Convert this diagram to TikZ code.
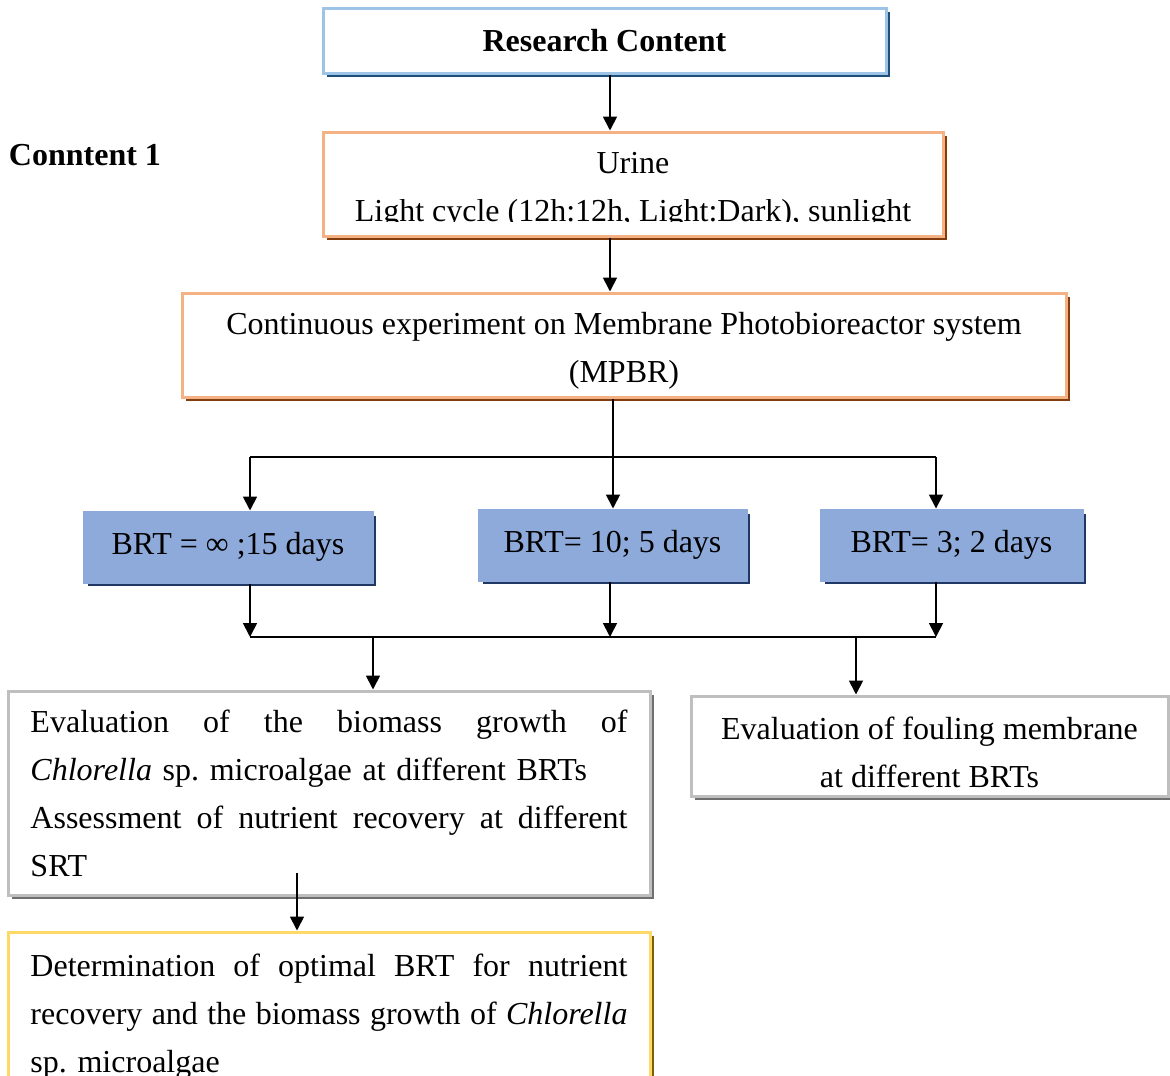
\documentclass[tikz,border=0pt]{standalone}
\usepackage{fontspec}
\usepackage{trimclip}
\setmainfont{Liberation Serif}
\usetikzlibrary{arrows.meta,shadows}
\frenchspacing

\definecolor{titleline}{HTML}{9DC3E6}
\definecolor{titleshade}{HTML}{1F4E79}
\definecolor{inputline}{HTML}{F4B183}
\definecolor{inputshade}{HTML}{843C0C}
\definecolor{brtfill}{HTML}{8EAADB}
\definecolor{brtshade}{HTML}{1F3864}
\definecolor{evalline}{HTML}{BFBFBF}
\definecolor{evalshade}{HTML}{6F6F6F}
\definecolor{optline}{HTML}{FFD966}
\definecolor{optshade}{HTML}{7F6000}

% a justified line of the wide text boxes, words split by \wsp
\newcommand\fullline[1]{\leavevmode\hbox to 597pt{#1}}
\newcommand\wsp{\hskip 0.15em plus 1fil\relax}
% a line set a little lower than its box would put it
\newcommand\lowline[2][6pt]{\raisebox{-#1}[\height][\depth]{#2}}

\tikzset{
  box/.style={rectangle, fill=white, line width=3pt, inner sep=0pt,
    font=\fontsize{32}{48}\selectfont, align=center},
  shade/.style={general shadow={fill=#1, shadow xshift=4pt, shadow yshift=-4pt}},
  titlebox/.style={box, draw=titleline, shade=titleshade},
  inputbox/.style={box, draw=inputline, shade=inputshade},
  brtbox/.style={box, fill=brtfill, draw=brtfill, shade=brtshade,
    minimum width=#1, minimum height=70pt},
  evalbox/.style={box, draw=evalline, shade=evalshade},
  optbox/.style={box, draw=optline, shade=optshade},
  arr/.style={line width=1.8pt, -{Triangle[width=14pt,length=14pt]}}
}

\begin{document}
\begin{tikzpicture}[x=1pt, y=-1pt]
\useasboundingbox (0,0) rectangle (1170,1076);

% boxes
\node[titlebox, minimum width=563pt, minimum height=65pt,
  font=\fontsize{32}{48}\selectfont\bfseries] (content) at (604.5,40.5) {Research Content};
\node[font=\fontsize{32}{36}\selectfont\bfseries] (part) at (85,155) {Conntent 1};
\node[inputbox, minimum width=620pt, minimum height=104pt] (urine) at (633,184)
  {\lowline[3pt]{Urine}\\
   \lowline[3pt]{\clipbox{0pt {\depth} 0pt 0pt}{Light cycle (12h:12h, Light:Dark), sunlight}}};
\node[inputbox, minimum width=884pt, minimum height=104pt] (mpbr) at (624,345)
  {\lowline{Continuous experiment on Membrane Photobioreactor system}\\\lowline{(MPBR)}};

\node[brtbox=288pt] (brt1) at (228,547) {BRT = ∞ ;15 days};
\node[brtbox=267pt] (brt2) at (612.5,545) {BRT= 10; 5 days};
\node[brtbox=261pt] (brt3) at (951.5,545) {BRT= 3; 2 days};

\node[evalbox, minimum width=642pt, minimum height=204pt, text width=597pt, align=left]
  (growth) at (329,793)
  {\fullline{Evaluation\wsp of\wsp the\wsp biomass\wsp growth\wsp of}\\
   \textit{Chlorella} sp. microalgae at different BRTs\\
   \fullline{Assessment\wsp of\wsp nutrient\wsp recovery\wsp at\wsp different}\\
   SRT};
\node[evalbox, minimum width=477pt, minimum height=100pt] (fouling) at (929.5,746)
  {\lowline{Evaluation of fouling membrane}\\\lowline{at different BRTs}};

\node[optbox, minimum width=642pt, minimum height=170pt, text width=597pt, align=left]
  (optimal) at (329,1017)
  {\fullline{Determination\wsp of\wsp optimal\wsp BRT\wsp for\wsp nutrient}\\
   \fullline{recovery\wsp and\wsp the\wsp biomass\wsp growth\wsp of\wsp \textit{Chlorella}}\\
   sp. microalgae};

% connectors
\coordinate (spine) at (610,0);
\coordinate (middle) at (613,0);
\coordinate (left) at (250,0);
\coordinate (right) at (936,0);
\coordinate (split) at (0,457);
\coordinate (merge) at (0,637);
\coordinate (toeval) at (373,0);
\coordinate (tofoul) at (856,0);
\coordinate (fromeval) at (297,873);

\draw[arr] (content.south -| spine) -- (urine.north -| spine);
\draw[arr] (urine.south -| spine) -- (mpbr.north -| spine);

\draw[arr] (mpbr.south -| middle) -- (brt2.north -| middle);
\draw[line width=1.8pt] (left |- split) -- (right |- split);
\draw[arr] (left |- split) -- (left |- brt1.north);
\draw[arr] (right |- split) -- (right |- brt3.north);

\draw[arr] (left |- brt1.south) -- (left |- merge);
\draw[arr] (spine |- brt2.south) -- (spine |- merge);
\draw[arr] (right |- brt3.south) -- (right |- merge);
\draw[line width=1.8pt] (left |- merge) -- (right |- merge);

\draw[arr] (toeval |- merge) -- (toeval |- growth.north);
\draw[arr] (tofoul |- merge) -- (tofoul |- fouling.north);
\draw[arr] (fromeval) -- (fromeval |- optimal.north);
\end{tikzpicture}
\end{document}
